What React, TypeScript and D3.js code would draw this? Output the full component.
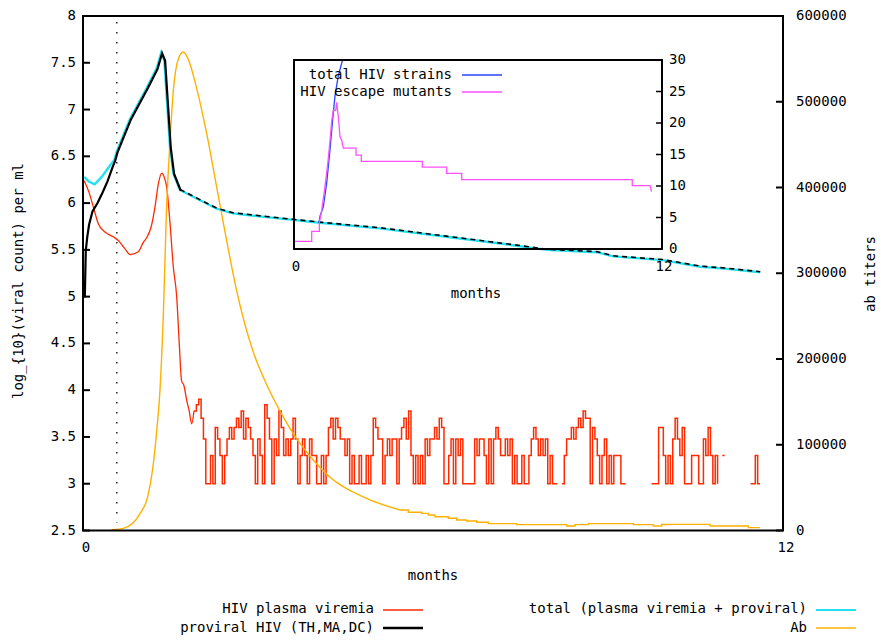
import * as d3 from 'd3'

const W = 881
const H = 643
const box = { left: 83, right: 783, top: 16, bottom: 530.5 }
const inset = { left: 294, right: 662, top: 60, bottom: 249 }

// HIV plasma viremia, early smooth part (months, log10 count)
const plasmaMonths = [0.02, 0.1, 0.177, 0.262, 0.377, 0.519, 0.605, 0.72, 0.806, 0.948, 1.034, 1.092, 1.17, 1.234, 1.29, 1.349, 1.39, 1.435, 1.49, 1.548, 1.606, 1.65, 1.69, 1.73, 1.778, 1.82, 1.863]
const plasmaLog = [6.24, 6.12, 5.96, 5.78, 5.69, 5.64, 5.6, 5.51, 5.45, 5.48, 5.58, 5.63, 5.75, 5.96, 6.2, 6.32, 6.28, 6.17, 5.8, 5.32, 5.0, 4.5, 4.1, 4.05, 3.89, 3.78, 3.64]
// later part, thousands per ml (0 = nothing detected)
const plasmaKiloStart = 1.903
const plasmaKiloEnd = 11.606
const plasmaKilo = [
  6, 7, 8, 5, 3, 1, 1, 2, 1, 4, 3, 2, 1, 2, 3, 4, 3, 4, 5, 4, 6, 3, 5, 4, 3, 2, 1, 3, 2, 1, 7, 5, 3, 1, 3, 2, 6, 4, 2, 3, 2, 3, 5, 3, 1, 2,
  3, 2, 1, 3, 2, 2, 1, 1, 2, 1, 2, 4, 5, 3, 5, 4, 3, 3, 2, 3, 1, 2, 1, 1, 2, 1, 1, 2, 1, 2, 5, 4, 3, 3, 1, 2,
  3, 2, 3, 3, 1, 3, 4, 5, 3, 6, 2, 1, 2, 1, 2, 1, 3, 2, 3, 3, 4, 3, 5, 4, 1, 1, 2, 3, 1, 3, 2, 3, 1, 1, 1, 1, 1,
  3, 2, 3, 3, 2, 1, 3, 1, 3, 4, 3, 2, 2, 3, 2, 3, 1, 2, 1, 1, 2, 1, 1, 2, 3, 4, 3, 2, 3, 2, 3, 1, 2, 1, 1, 1, 0, 1,
  2, 3, 3, 4, 3, 4, 5, 4, 6, 5, 5, 1, 4, 3, 2, 1, 2, 3, 1, 2, 1, 2, 2, 2, 1, 1, 1, 0, 1, 0, 1, 0, 0, 0, 0, 0, 0,
  1, 1, 1, 4, 4, 2, 1, 2, 1, 3, 5, 3, 2, 4, 1, 1, 1, 2, 2, 2, 1, 1, 3, 2, 4, 2, 1, 2, 1, 0, 2, 2, 0, 0, 0, 0, 0, 0, 0, 0, 0, 0, 1, 1, 2, 1, 1,
]

// proviral HIV, before it joins the total curve
const proviralMonths = [0.017, 0.034, 0.06, 0.091, 0.149, 0.235, 0.32, 0.406, 0.492, 0.537]
const proviralLog = [5.0, 5.5, 5.65, 5.78, 5.92, 6.01, 6.12, 6.24, 6.39, 6.46]

// total (plasma viremia + proviral)
const totalMonths = [0.02, 0.1, 0.2, 0.32, 0.46, 0.537, 0.578, 0.806, 1.092, 1.263, 1.342, 1.394, 1.491, 1.548, 1.663, 2.006, 2.292, 2.571, 3.149, 3.6, 4.06, 5.09, 6.23, 7.37, 7.95, 8.81, 9.09, 9.94, 10.58, 11.0, 11.61]
const totalLog = [6.28, 6.23, 6.2, 6.28, 6.4, 6.46, 6.55, 6.9, 7.23, 7.44, 7.61, 7.53, 6.6, 6.32, 6.14, 6.03, 5.94, 5.89, 5.85, 5.82, 5.79, 5.73, 5.64, 5.55, 5.5, 5.475, 5.43, 5.39, 5.32, 5.3, 5.26]

// antibody titers
const abMonths = [0.49, 0.69, 0.98, 1.11, 1.2, 1.26, 1.32, 1.38, 1.43, 1.49, 1.55, 1.63, 1.72, 1.83, 1.94, 2.12, 2.29, 2.46, 2.63, 2.91, 3.15, 3.38, 3.72, 3.95, 4.23, 4.86, 5.434]
const abTiters = [1000, 2500, 20000, 39500, 74500, 113500, 164000, 257000, 371000, 452000, 514000, 549000, 558000, 545000, 518000, 463000, 401000, 339000, 281000, 210000, 170000, 139000, 101500, 82000, 62500, 37500, 23900]
const abTailMonths = [5.434, 5.577, 5.806, 5.92, 6.034, 6.263, 6.406, 6.577, 6.749, 6.949, 7.434, 8.292, 8.434, 8.663, 9.434, 9.777, 9.92, 10.063, 10.749, 11.406, 11.606]
const abTailTiters = [23900, 21200, 20000, 18100, 16100, 14200, 12300, 11100, 9600, 8000, 6800, 5300, 6800, 8000, 6800, 5300, 7000, 7200, 5300, 3300, 3300]

// inset: strain counts
const strainMonths = [0.815, 0.848, 0.955, 1.066, 1.174, 1.262, 1.337, 1.445, 1.588, 1.7]
const strainCounts = [4.2, 5.2, 6.7, 10.5, 15.8, 20.6, 24.3, 27.5, 30.1, 33]
const mutantMonths = [0, 0.577, 0.577, 0.826, 0.826, 0.9, 1.0, 1.1, 1.18, 1.229, 1.282, 1.36, 1.392, 1.445, 1.5, 1.555, 1.608, 2.022, 2.022, 2.195, 2.195, 4.184, 4.184, 4.979, 4.979, 5.468, 5.468, 11.03, 11.03, 11.61, 11.66]
const mutantCounts = [1.2, 1.2, 2.8, 2.8, 4.2, 6, 9.5, 13.5, 17.5, 20.3, 22, 22, 23.3, 21, 17.8, 17.3, 16, 16, 14.9, 14.9, 13.9, 13.9, 13, 13, 12, 12, 11, 11, 10.05, 10.05, 9.1]

const leftTicks = [2.5, 3, 3.5, 4, 4.5, 5, 5.5, 6, 6.5, 7, 7.5, 8]
const rightTicks = [0, 100000, 200000, 300000, 400000, 500000, 600000]
const insetTicks = [0, 5, 10, 15, 20, 25, 30]
const monthTicks = [0, 12]
const markerMonth = 0.58

const font = '"DejaVu Sans Mono", monospace'
const RED = '#ff2a00'
const CYAN = '#22e2f2'
const ORANGE = '#ffb000'
const MAGENTA = '#ff50ff'
const BLUE = '#2846ff'

type P = [number, number]
const zip = (a: number[], b: number[]): P[] => a.map((v, i) => [v, b[i]])

function App() {
  const x = d3.scaleLinear().domain([0, 12]).range([box.left, box.right])
  const yL = d3.scaleLinear().domain([2.5, 8]).range([box.bottom, box.top])
  const yR = d3.scaleLinear().domain([0, 600000]).range([box.bottom, box.top])
  const xi = d3.scaleLinear().domain([0, 12]).range([inset.left, inset.right])
  const yi = d3.scaleLinear().domain([0, 30]).range([inset.bottom, inset.top])

  const lineL = d3.line<P>().x(d => x(d[0])).y(d => yL(d[1]))
  const smoothL = d3.line<P>().x(d => x(d[0])).y(d => yL(d[1])).curve(d3.curveMonotoneX)
  const smoothR = d3.line<P>().x(d => x(d[0])).y(d => yR(d[1])).curve(d3.curveMonotoneX)
  const lineI = d3.line<P>().x(d => xi(d[0])).y(d => yi(d[1]))

  const dt = (plasmaKiloEnd - plasmaKiloStart) / (plasmaKilo.length - 1)
  const noisy: P[] = plasmaKilo.map((k, i) => [plasmaKiloStart + i * dt, k > 0 ? Math.log10(k * 1000) : NaN])
  const noisyLine = d3.line<P>()
    .defined(d => !isNaN(d[1]))
    .x(d => x(d[0])).y(d => yL(d[1]))
    .curve(d3.curveStepAfter)

  const smoothPlasma = zip(plasmaMonths, plasmaLog).concat([[plasmaKiloStart, Math.log10(plasmaKilo[0] * 1000)]])
  const total = zip(totalMonths, totalLog)
  const proviral = zip(proviralMonths, proviralLog).concat(total.filter(d => d[0] >= 0.578))
  const provSolid = proviral.filter(d => d[0] <= 1.663)
  const provDashed = proviral.filter(d => d[0] >= 1.663)

  const abTail = d3.line<P>().x(d => x(d[0])).y(d => yR(d[1])).curve(d3.curveStepAfter)

  const txt = { fontFamily: font, fontSize: 14, fill: '#000' } as const

  return (
    <svg width={W} height={H} style={{ position: 'absolute', left: 0, top: 0, background: '#fff' }}>
      <defs>
        <clipPath id="mainClip">
          <rect x={box.left} y={box.top} width={box.right - box.left} height={box.bottom - box.top} />
        </clipPath>
        <clipPath id="insetClip">
          <rect x={inset.left} y={inset.top} width={inset.right - inset.left} height={inset.bottom - inset.top} />
        </clipPath>
      </defs>
      <rect width={W} height={H} fill="#fff" />

      <line x1={x(markerMonth)} x2={x(markerMonth)} y1={box.top + 6} y2={box.bottom - 8}
        stroke="#000" strokeWidth={1.3} strokeDasharray="1.4 8.6" />

      <g clipPath="url(#mainClip)" fill="none">
        <path d={noisyLine(noisy) ?? ''} stroke={RED} strokeWidth={1.5} />
        <path d={smoothL(smoothPlasma) ?? ''} stroke={RED} strokeWidth={1.3} />
        <path d={smoothR(zip(abMonths, abTiters)) ?? ''} stroke={ORANGE} strokeWidth={1.4} />
        <path d={abTail(zip(abTailMonths, abTailTiters)) ?? ''} stroke={ORANGE} strokeWidth={1.4} />
        <path d={lineL(total) ?? ''} stroke={CYAN} strokeWidth={2.4} />
        <path d={lineL(provSolid) ?? ''} stroke="#000" strokeWidth={2.2} transform="translate(0.8,0.8)" />
        <path d={lineL(provDashed) ?? ''} stroke="#000" strokeWidth={1.6} strokeDasharray="5 4" transform="translate(0,-0.6)" />
      </g>

      {/* main frame */}
      <rect x={box.left} y={box.top} width={box.right - box.left} height={box.bottom - box.top}
        fill="none" stroke="#000" strokeWidth={2} />
      {leftTicks.map(t => (
        <g key={'l' + t}>
          <line x1={box.left} x2={box.left + 7} y1={yL(t)} y2={yL(t)} stroke="#000" strokeWidth={2} />
          <text x={box.left - 7} y={yL(t)} textAnchor="end" dominantBaseline="middle" {...txt}>{t}</text>
        </g>
      ))}
      {rightTicks.map(t => (
        <g key={'r' + t}>
          <line x1={box.right - 7} x2={box.right} y1={yR(t)} y2={yR(t)} stroke="#000" strokeWidth={2} />
          <text x={box.right + 13} y={yR(t)} textAnchor="start" dominantBaseline="middle" {...txt}>{t}</text>
        </g>
      ))}
      {monthTicks.map(t => (
        <text key={'m' + t} x={x(t) + 3} y={548} textAnchor="middle" dominantBaseline="middle" {...txt}>{t}</text>
      ))}
      <text x={433} y={576} textAnchor="middle" dominantBaseline="middle" {...txt}>months</text>
      <text transform="translate(19,281) rotate(-90)" textAnchor="middle" dominantBaseline="middle" {...txt}>
        log_{'{10}'}(viral count) per ml
      </text>
      <text transform="translate(871,274) rotate(-90)" textAnchor="middle" dominantBaseline="middle" {...txt}>
        ab titers
      </text>

      {/* inset */}
      <g clipPath="url(#insetClip)" fill="none">
        <path d={lineI(zip(strainMonths, strainCounts)) ?? ''} stroke={BLUE} strokeWidth={1.3} />
        <path d={lineI(zip(mutantMonths, mutantCounts)) ?? ''} stroke={MAGENTA} strokeWidth={1.3} />
      </g>
      <rect x={inset.left} y={inset.top} width={inset.right - inset.left} height={inset.bottom - inset.top}
        fill="none" stroke="#000" strokeWidth={2} />
      {insetTicks.map(t => (
        <g key={'i' + t}>
          <line x1={inset.right - 6} x2={inset.right} y1={yi(t)} y2={yi(t)} stroke="#000" strokeWidth={1.5} />
          <text x={inset.right + 7} y={yi(t)} textAnchor="start" dominantBaseline="middle" {...txt}>{t}</text>
        </g>
      ))}
      {monthTicks.map(t => (
        <text key={'im' + t} x={xi(t) + 2} y={267} textAnchor="middle" dominantBaseline="middle" {...txt}>{t}</text>
      ))}
      <text x={476} y={294} textAnchor="middle" dominantBaseline="middle" {...txt}>months</text>
      <text x={452} y={75} textAnchor="end" dominantBaseline="middle" {...txt}>total HIV strains</text>
      <line x1={462} x2={502} y1={75} y2={75} stroke={BLUE} strokeWidth={1.3} />
      <text x={452} y={92} textAnchor="end" dominantBaseline="middle" {...txt}>HIV escape mutants</text>
      <line x1={462} x2={502} y1={92} y2={92} stroke={MAGENTA} strokeWidth={1.3} />

      {/* bottom legend */}
      <text x={374} y={609} textAnchor="end" dominantBaseline="middle" {...txt}>HIV plasma viremia</text>
      <line x1={383} x2={423} y1={610} y2={610} stroke={RED} strokeWidth={1.3} />
      <text x={374} y={628} textAnchor="end" dominantBaseline="middle" {...txt}>proviral HIV (TH,MA,DC)</text>
      <line x1={383} x2={423} y1={628} y2={628} stroke="#000" strokeWidth={2.5} />
      <text x={807} y={609} textAnchor="end" dominantBaseline="middle" {...txt}>total (plasma viremia + proviral)</text>
      <line x1={816} x2={856} y1={610} y2={610} stroke={CYAN} strokeWidth={2} />
      <text x={807} y={628} textAnchor="end" dominantBaseline="middle" {...txt}>Ab</text>
      <line x1={816} x2={856} y1={628} y2={628} stroke={ORANGE} strokeWidth={1.4} />
    </svg>
  )
}

export default App
